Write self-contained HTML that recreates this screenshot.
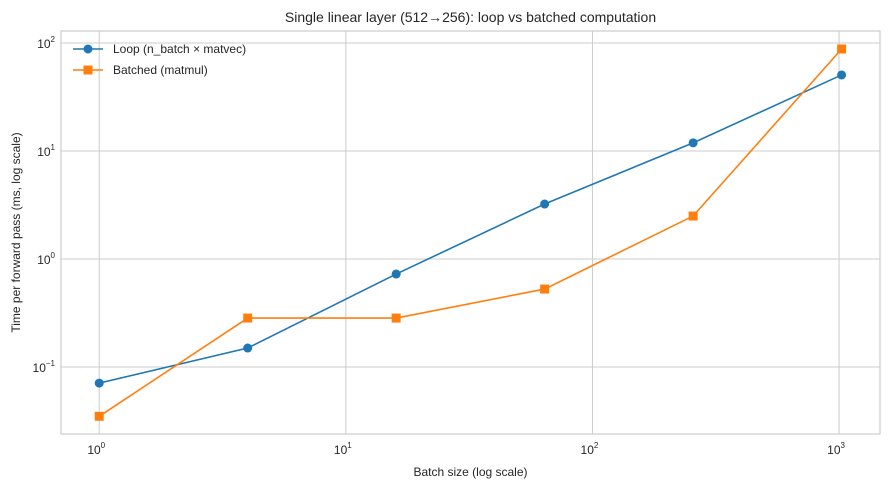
<!DOCTYPE html>
<html><head><meta charset="utf-8"><style>
body{margin:0;background:#fff;}
svg text{font-family:"Liberation Sans","DejaVu Sans",sans-serif;fill:#262626;}
</style></head><body>
<svg id="c" width="889" height="490" xmlns="http://www.w3.org/2000/svg"></svg>
<script>
const batchSizes=[1,4,16,64,256,1024];
const loopMs=[0.071,0.15,0.726,3.23,11.9,50.6];
const batchedMs=[0.035,0.284,0.284,0.527,2.50,88];
const xTicks=[1,10,100,1000];
const xTickExp=["0","1","2","3"];
const yTicks=[0.1,1,10,100];
const yTickExp=["−1","0","1","2"];
const L=61,R=880,T=31,B=434;
const xMin=-0.155,xMax=3.166,yMin=-1.62,yMax=2.111;
const X=v=>L+(Math.log10(v)-xMin)/(xMax-xMin)*(R-L);
const Y=v=>B-(Math.log10(v)-yMin)/(yMax-yMin)*(B-T);
const svg=document.getElementById('c');
const NS='http://www.w3.org/2000/svg';
function mk(t,a,p){const e=document.createElementNS(NS,t);for(const k in a)e.setAttribute(k,a[k]);(p||svg).appendChild(e);return e;}
let e;
e=mk('g',{});


const grid=e;
xTicks.forEach((v,i)=>{
 e=mk('line',{x1:X(v),x2:X(v),y1:T,y2:B,stroke:'#cccccc','stroke-width':1},grid);
 
 
 e=mk('text',{x:X(v)-3,y:B+20,'font-size':12,'text-anchor':'middle'});
 
 
 e.innerHTML='10<tspan dy="-6" font-size="8">'+xTickExp[i]+'</tspan>';
});
yTicks.forEach((v,i)=>{
 e=mk('line',{x1:L,x2:R,y1:Y(v),y2:Y(v),stroke:'#cccccc','stroke-width':1},grid);
 
 
 e=mk('text',{x:L-6,y:Y(v)+5,'font-size':12,'text-anchor':'end'});
 
 
 e.innerHTML='10<tspan dy="-6" font-size="8">'+yTickExp[i]+'</tspan>';
});
e=mk('rect',{x:L,y:T,width:R-L,height:B-T,fill:'none',stroke:'#cccccc','stroke-width':1.2});


function series(vals,color,marker,name){
 const g=mk('g',{});
 
 
 e=mk('polyline',{points:vals.map((v,i)=>X(batchSizes[i])+','+Y(v)).join(' '),fill:'none',stroke:color,'stroke-width':1.6},g);
 
 
 vals.forEach((v,i)=>{
  const cx=X(batchSizes[i]),cy=Y(v);
  if(marker==='o')e=mk('circle',{cx:cx,cy:cy,r:4.5,fill:color},g);
  else e=mk('rect',{x:cx-4.5,y:cy-4.5,width:9,height:9,fill:color},g);
  
  
 });
}
series(loopMs,'#1f77b4','o','loop-series');
series(batchedMs,'#ff7f0e','s','batched-series');
// legend
e=mk('line',{x1:73,x2:103,y1:49,y2:49,stroke:'#1f77b4','stroke-width':1.6});


e=mk('circle',{cx:88,cy:49,r:4.5,fill:'#1f77b4'});


e=mk('text',{x:113,y:53,'font-size':12});
e.textContent='Loop (n_batch × matvec)';


e=mk('line',{x1:73,x2:103,y1:70,y2:70,stroke:'#ff7f0e','stroke-width':1.6});


e=mk('rect',{x:83.5,y:65.5,width:9,height:9,fill:'#ff7f0e'});


e=mk('text',{x:113,y:74,'font-size':12});
e.textContent='Batched (matmul)';


e=mk('text',{x:(L+R)/2,y:22,'font-size':14,'text-anchor':'middle'});
e.textContent='Single linear layer (512→256): loop vs batched computation';


e=mk('text',{x:(L+R)/2,y:476,'font-size':12,'text-anchor':'middle'});
e.textContent='Batch size (log scale)';


e=mk('text',{x:20,y:(T+B)/2,'font-size':12,'text-anchor':'middle',transform:'rotate(-90 20 '+(T+B)/2+')'});
e.textContent='Time per forward pass (ms, log scale)';


</script>
</body></html>
